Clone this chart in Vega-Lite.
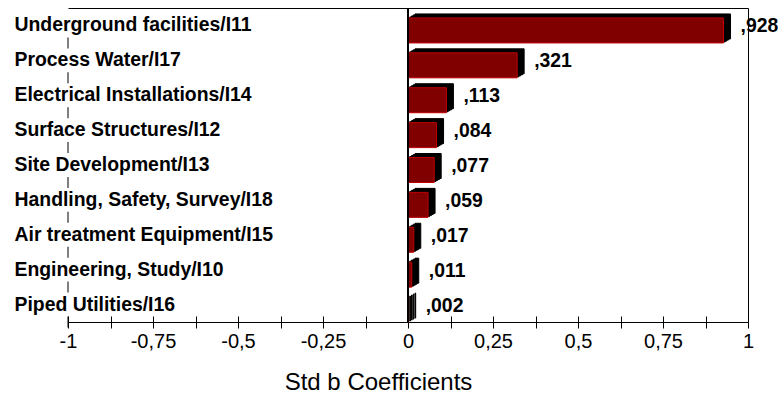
{
  "$schema": "https://vega.github.io/schema/vega-lite/v6.json",
  "width": 680,
  "height": 314,
  "autosize": {"type": "none"},
  "padding": {"left": 68, "top": 8, "right": 30, "bottom": 74},
  "background": "white",
  "config": {"view": {"stroke": null}, "font": "Liberation Sans"},
  "data": {"values": [
    {"item": "Underground facilities/I11", "coef": 0.928, "label": ",928"},
    {"item": "Process Water/I17", "coef": 0.321, "label": ",321"},
    {"item": "Electrical Installations/I14", "coef": 0.113, "label": ",113"},
    {"item": "Surface Structures/I12", "coef": 0.084, "label": ",084"},
    {"item": "Site Development/I13", "coef": 0.077, "label": ",077"},
    {"item": "Handling, Safety, Survey/I18", "coef": 0.059, "label": ",059"},
    {"item": "Air treatment Equipment/I15", "coef": 0.017, "label": ",017"},
    {"item": "Engineering, Study/I10", "coef": 0.011, "label": ",011"},
    {"item": "Piped Utilities/I16", "coef": 0.002, "label": ",002"}
  ]},
  "resolve": {"axis": {"x": "independent", "y": "independent"}},
  "layer": [
    {
      "mark": {"type": "bar", "color": "black", "stroke": "black", "strokeWidth": 1, "height": 25, "xOffset": 7, "x2Offset": 7, "yOffset": 1},
      "encoding": {
        "y": {"field": "item", "type": "nominal", "sort": null,
              "scale": {"paddingInner": 0, "paddingOuter": 0},
              "axis": {"title": null, "domain": false, "ticks": false, "tickSize": 0, "labelAlign": "left",
                       "labelPadding": 54, "labelFontWeight": "bold", "labelFontSize": 19.4,
                       "labelColor": "black", "labelBaseline": "middle", "labelLimit": 0}},
        "x": {"field": "coef", "type": "quantitative", "scale": {"domain": [-1, 1], "nice": false},
              "axis": {"orient": "bottom", "grid": false,
                       "values": [-1, -0.875, -0.75, -0.625, -0.5, -0.375, -0.25, -0.125, 0, 0.125, 0.25, 0.375, 0.5, 0.625, 0.75, 0.875, 1],
                       "tickSize": 6, "tickColor": "black", "domainColor": "black",
                       "labelExpr": "abs(datum.value*4 - round(datum.value*4)) < 0.001 ? replace(toString(datum.value), '.', ',') : ''",
                       "labelFontSize": 20, "labelColor": "black", "labelPadding": 3,
                       "labelFlush": false, "labelOverlap": false,
                       "title": "Std b Coefficients", "titleFontSize": 24, "titleFontWeight": "normal",
                       "titleColor": "black", "titleX": 310, "titleY": 67, "titleAlign": "center", "titleBaseline": "alphabetic"}},
        "x2": {"datum": 0}
      }
    },
    {
      "mark": {"type": "bar", "color": "black", "stroke": "black", "strokeWidth": 1, "height": 25, "xOffset": 5.25, "x2Offset": 5.25, "yOffset": 2},
      "encoding": {
        "y": {"field": "item", "type": "nominal", "sort": null, "axis": null},
        "x": {"field": "coef", "type": "quantitative", "axis": null},
        "x2": {"datum": 0}
      }
    },
    {
      "mark": {"type": "bar", "color": "black", "stroke": "black", "strokeWidth": 1, "height": 25, "xOffset": 3.5, "x2Offset": 3.5, "yOffset": 3},
      "encoding": {
        "y": {"field": "item", "type": "nominal", "sort": null, "axis": null},
        "x": {"field": "coef", "type": "quantitative", "axis": null},
        "x2": {"datum": 0}
      }
    },
    {
      "mark": {"type": "bar", "color": "black", "stroke": "black", "strokeWidth": 1, "height": 25, "xOffset": 1.75, "x2Offset": 1.75, "yOffset": 4},
      "encoding": {
        "y": {"field": "item", "type": "nominal", "sort": null, "axis": null},
        "x": {"field": "coef", "type": "quantitative", "axis": null},
        "x2": {"datum": 0}
      }
    },
    {
      "mark": {"type": "bar", "color": "#800000", "stroke": "#c00000", "strokeWidth": 1, "height": 25, "yOffset": 5},
      "encoding": {
        "y": {"field": "item", "type": "nominal", "sort": null,
              "axis": {"orient": "right", "title": null, "labels": false, "ticks": false, "domain": true, "domainColor": "black"}},
        "x": {"field": "coef", "type": "quantitative",
              "axis": {"orient": "top", "title": null, "labels": false, "ticks": false, "grid": false, "domain": true, "domainColor": "black"}},
        "x2": {"datum": 0}
      }
    },
    {
      "mark": {"type": "text", "align": "left", "baseline": "middle", "dx": 17, "dy": 1, "fontWeight": "bold", "fontSize": 19.4, "color": "black"},
      "encoding": {
        "y": {"field": "item", "type": "nominal", "sort": null, "axis": null},
        "x": {"field": "coef", "type": "quantitative",
              "axis": {"orient": "bottom", "offset": -6, "title": null, "labels": false, "domain": false, "grid": false,
                       "tickSize": 6, "tickColor": "black",
                       "values": [-1, -0.875, -0.75, -0.625, -0.5, -0.375, -0.25, -0.125, 0, 0.125, 0.25, 0.375, 0.5, 0.625, 0.75, 0.875, 1]}},
        "text": {"field": "label"}
      }
    },
    {
      "mark": {"type": "tick", "color": "black", "size": 11, "thickness": 1, "yOffset": 17.44, "opacity": 1},
      "encoding": {
        "y": {"field": "item", "type": "nominal", "sort": null, "axis": null},
        "x": {"datum": -1, "type": "quantitative", "axis": null}
      }
    },
    {
      "mark": {"type": "rule", "color": "black", "strokeWidth": 1},
      "encoding": {
        "x": {"datum": 0, "type": "quantitative", "axis": null}
      }
    }
  ]
}
